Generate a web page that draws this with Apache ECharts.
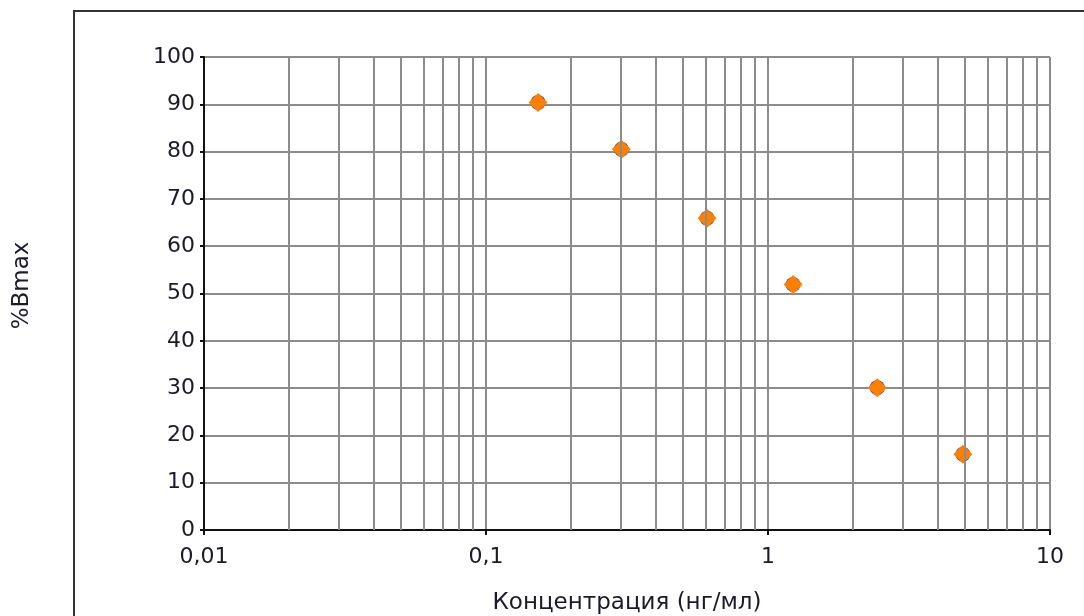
<!DOCTYPE html>
<html><head><meta charset="utf-8">
<script src="https://cdn.jsdelivr.net/npm/echarts@6/dist/echarts.min.js"></script>
<style>html,body{margin:0;padding:0;background:#fff}#c{width:1084px;height:616px}</style>
</head><body><div id="c"></div>
<script>
const concentrations = [0.153, 0.302, 0.608, 1.227, 2.44, 4.91];
const bmaxValues = [90.4, 80.5, 65.9, 51.9, 30.1, 16.0];
const xMinorGrid = [0.02,0.03,0.04,0.05,0.06,0.07,0.08,0.09,0.2,0.3,0.4,0.5,0.6,0.7,0.8,0.9,2,3,4,5,6,7,8,9];
const xTitle = 'Концентрация (нг/мл)';
const yTitle = '%Bmax';

const pts = concentrations.map((c, i) => [c, bmaxValues[i]]);
const font = 'DejaVu Sans, Arial, sans-serif';
const chart = echarts.init(document.getElementById('c'));
chart.setOption({
  animation: false,
  grid: {left: 204, top: 57, right: 34, bottom: 86, containLabel: false, outerBoundsMode: 'none'},
  graphic: [
    {type: 'line', shape: {x1: 74, y1: 10, x2: 74, y2: 616}, style: {stroke: '#333', lineWidth: 2}},
    {type: 'line', shape: {x1: 73, y1: 11, x2: 1084, y2: 11}, style: {stroke: '#333', lineWidth: 2}}
  ],
  xAxis: {
    type: 'log', logBase: 10, min: 0.01, max: 10,
    name: xTitle, nameLocation: 'middle', nameGap: 62,
    nameTextStyle: {fontFamily: font, fontSize: 23, color: '#1a1a2a'},
    axisLine: {show: true, onZero: false, lineStyle: {color: '#111', width: 2}},
    axisTick: {show: true, length: 5, inside: false, lineStyle: {color: '#111', width: 2}},
    axisLabel: {fontFamily: font, fontSize: 22, color: '#1a1a2a', margin: 16,
      formatter: v => String(Number(v.toPrecision(6))).replace('.', ',')},
    splitLine: {show: true, lineStyle: {color: '#8c8c8c', width: 2}},
    minorTick: {show: false}, minorSplitLine: {show: false}
  },
  yAxis: {
    type: 'value', min: 0, max: 100, interval: 10,
    name: yTitle, nameLocation: 'middle', nameGap: 170, nameRotate: 90,
    nameTextStyle: {fontFamily: font, fontSize: 23, color: '#1a1a2a', padding: [0, 0, 0, 16]},
    axisLine: {show: true, lineStyle: {color: '#111', width: 2}},
    axisTick: {show: true, length: 4, lineStyle: {color: '#111', width: 2}},
    axisLabel: {fontFamily: font, fontSize: 22, color: '#1a1a2a', margin: 9, padding: [3, 0, 0, 0]},
    splitLine: {show: true, lineStyle: {color: '#8c8c8c', width: 2}}
  },
  series: [
    {
      type: 'scatter', data: [], silent: true,
      markLine: {
        silent: true, symbol: ['none', 'none'], label: {show: false},
        lineStyle: {color: '#8c8c8c', width: 2, type: 'solid'},
        emphasis: {disabled: true},
        data: xMinorGrid.map(v => ({xAxis: v}))
      }
    },
    {
      type: 'scatter', data: pts, symbol: 'circle', symbolSize: 15,
      itemStyle: {color: '#4b3f9e', opacity: 1}, z: 3
    },
    {
      type: 'scatter', data: pts, symbol: 'diamond', symbolSize: [19, 19],
      itemStyle: {color: '#ff7f00', opacity: 1}, z: 4
    }
  ]
});
</script></body></html>
